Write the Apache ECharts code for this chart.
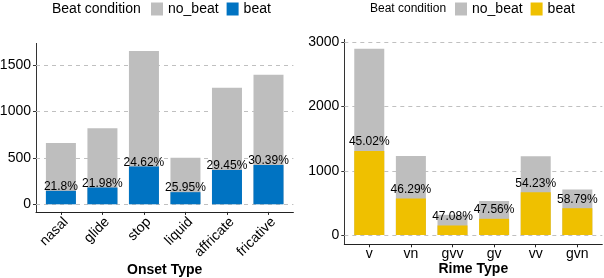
<!DOCTYPE html>
<html><head><meta charset="utf-8">
<script src="https://cdn.jsdelivr.net/npm/echarts@6/dist/echarts.min.js"></script>
<style>
html,body{margin:0;padding:0;background:#fff;}
#left{position:absolute;left:0;top:0;width:300px;height:278px;}
#right{position:absolute;left:300px;top:0;width:304px;height:278px;}
</style></head><body>
<div id="left"></div><div id="right"></div>
<script>
const onsetCategories = ['nasal','glide','stop','liquid','affricate','fricative'];
const onsetBeat = [144,180,406,130,370,424];
const onsetNoBeat = [516,638,1244,371,885,971];
const onsetPctLabels = ['21.8%','21.98%','24.62%','25.95%','29.45%','30.39%'];
const onsetTicks = [0,500,1000,1500];

const rimeCategories = ['v','vn','gvv','gv','vv','gvn'];
const rimeBeat = [1306,569,148,252,664,417];
const rimeNoBeat = [1594,661,166,278,561,293];
const rimePctLabels = ['45.02%','46.29%','47.08%','47.56%','54.23%','58.79%'];
const rimeTicks = [0,1000,2000,3000];

const legendNames = ['no_beat','beat'];
const FONT = '"Liberation Sans", Arial, Helvetica, sans-serif';

function makeOption(cfg) {
  const n = cfg.categories.length;
  const totals = cfg.beat.map((b,i)=>b+cfg.noBeat[i]);
  const maxT = Math.max(...totals);
  const pos = cfg.categories.map((_,i)=>i+1);
  return {
    animation:false,
    textStyle:{fontFamily:FONT},
    title:{text:'Beat condition', left:cfg.titleLeft, top:cfg.titleTop, padding:0,
      textStyle:{fontSize:cfg.titleSize, fontWeight:'normal', color:'#000', fontFamily:FONT}},
    legend:{data:legendNames, left:cfg.legendLeft, top:cfg.legendTop, padding:0, itemWidth:12, itemHeight:13,
      itemGap:cfg.itemGap, icon:'rect', selectedMode:false,
      textStyle:{fontSize:14, color:'#000', fontFamily:FONT}},
    grid:{left:cfg.gridLeft, top:cfg.gridTop, width:cfg.gridWidth, height:cfg.gridHeight,
      containLabel:false, outerBoundsMode:'none'},
    xAxis:{type:'value', min:0.4, max:n+0.6, name:cfg.xName, nameLocation:'middle', nameGap:cfg.nameGap,
      nameMoveOverlap:false,
      nameTextStyle:{fontSize:14, fontWeight:'bold', color:'#000', fontFamily:FONT},
      axisLine:{show:true, onZero:false, lineStyle:{color:'#222', width:1}},
      axisTick:{show:true, customValues:pos, length:3, lineStyle:{color:'#222'}},
      axisLabel:{customValues:pos, formatter:v=>cfg.categories[Math.round(v)-1], rotate:cfg.rotate,
        verticalAlign:cfg.xLabelVAlign, margin:cfg.xLabelMargin, fontSize:14, color:'#000', fontFamily:FONT},
      splitLine:{show:false}},
    yAxis:{type:'value', min:-0.05*maxT, max:1.05*maxT,
      axisLine:{show:true, onZero:false, lineStyle:{color:'#333', width:1}},
      axisTick:{show:true, customValues:cfg.ticks, length:3, lineStyle:{color:'#333'}},
      axisLabel:{customValues:cfg.ticks, formatter:v=>String(Math.round(v)), margin:5, fontSize:14, color:'#000', fontFamily:FONT},
      splitLine:{show:false}},
    series:[
      {name:'no_beat', type:'bar', z:2, barWidth:cfg.barWidth, barGap:'-100%',
        data:pos.map((p,i)=>[p, totals[i]]),
        itemStyle:{color:'#BEBEBE'},
        markLine:{silent:true, symbol:'none', z:1, label:{show:false}, emphasis:{disabled:true},
          lineStyle:{type:[4,4], color:'#c0c0c0', width:1},
          data:cfg.ticks.map(t=>({yAxis:t}))}},
      {name:'beat', type:'bar', z:3, barWidth:cfg.barWidth, barGap:'-100%',
        data:pos.map((p,i)=>[p, cfg.beat[i]]),
        itemStyle:{color:cfg.beatColor},
        label:{show:true, position:'top', distance:cfg.labelDist, formatter:p=>cfg.pct[p.dataIndex],
          fontSize:12, color:'#000', fontFamily:FONT}}
    ]
  };
}

const left = echarts.init(document.getElementById('left'), null, {renderer:'canvas'});
left.setOption(makeOption({
  categories:onsetCategories, beat:onsetBeat, noBeat:onsetNoBeat, pct:onsetPctLabels, ticks:onsetTicks,
  beatColor:'#0073C2', gridLeft:36, gridTop:43.4, gridWidth:257.4, gridHeight:168.5,
  rotate:45, xLabelVAlign:'top', xLabelMargin:3, xName:'Onset Type', nameGap:51,
  titleLeft:52, titleTop:2, titleSize:14, legendLeft:151, legendTop:2, itemGap:8,
  barWidth:30, labelDist:-2
}));
const right = echarts.init(document.getElementById('right'), null, {renderer:'canvas'});
right.setOption(makeOption({
  categories:rimeCategories, beat:rimeBeat, noBeat:rimeNoBeat, pct:rimePctLabels, ticks:rimeTicks,
  beatColor:'#EFC000', gridLeft:44.3, gridTop:39.4, gridWidth:258, gridHeight:204.9,
  rotate:0, xLabelVAlign:'top', xLabelMargin:3, xName:'Rime Type', nameGap:18,
  titleLeft:70, titleTop:3, titleSize:12, legendLeft:155, legendTop:2, itemGap:8,
  barWidth:30, labelDist:3
}));
</script></body></html>
